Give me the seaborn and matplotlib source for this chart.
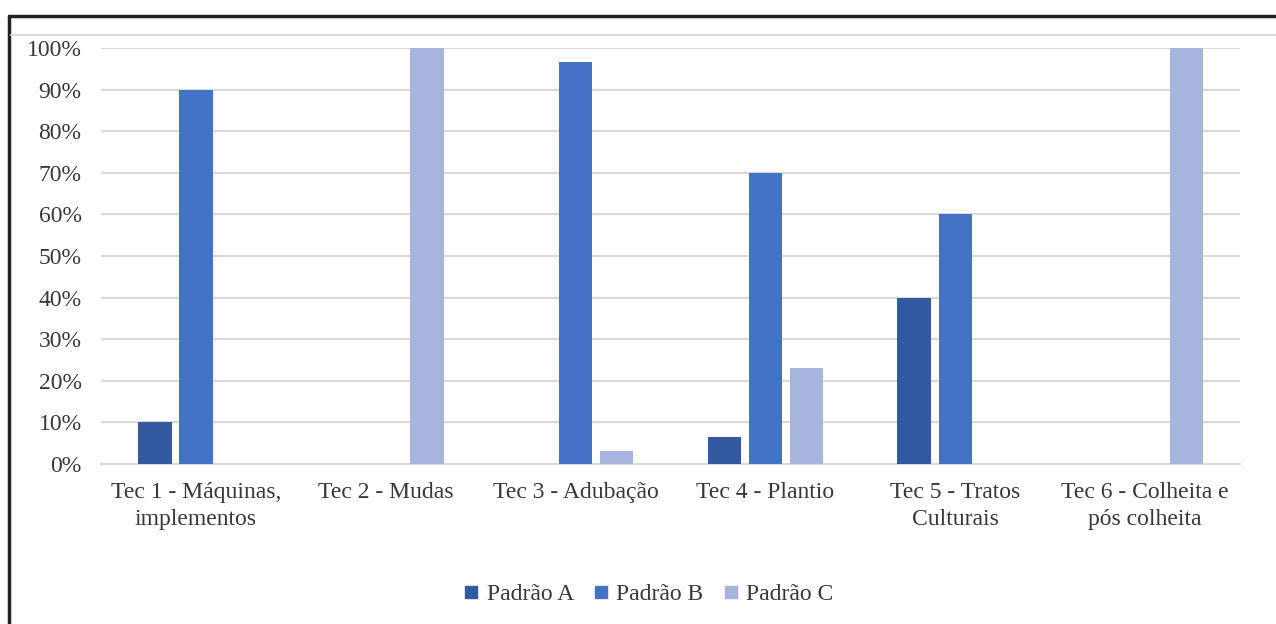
import pandas as pd
import matplotlib.pyplot as plt
import seaborn as sns
from matplotlib.lines import Line2D
from matplotlib.ticker import PercentFormatter

# dados
categorias = ['Tec 1 - Máquinas,\nimplementos', 'Tec 2 - Mudas', 'Tec 3 - Adubação',
              'Tec 4 - Plantio', 'Tec 5 - Tratos\nCulturais', 'Tec 6 - Colheita e\npós colheita']
padrao_a = [10, 0, 0, 6.6, 40, 0]
padrao_b = [90, 0, 96.6, 70, 60, 0]
padrao_c = [0, 100, 3.2, 23.1, 0, 100]
series = ['Padrão A', 'Padrão B', 'Padrão C']
cores = ['#335aa1', '#4472c4', '#a7b5dc']

df = pd.DataFrame({'cat': categorias * 3,
                   'padrao': [s for s in series for _ in categorias],
                   'valor': padrao_a + padrao_b + padrao_c})

sns.set_style('white')
plt.rcParams['font.family'] = ['Liberation Serif', 'DejaVu Serif']

fig = plt.figure(figsize=(12.76, 6.24), dpi=100)
ax = fig.add_axes([0.0792, 0.2564, 0.8926, 0.6666])

sns.barplot(data=df, x='cat', y='valor', hue='padrao', palette=cores, saturation=1,
            width=0.65, gap=0.19, linewidth=0, ax=ax, legend=False, zorder=3)

ax.set_ylim(0, 100)
ax.set_xlim(-0.5, 5.5)
ax.set_yticks(range(0, 101, 10))
ax.yaxis.set_major_formatter(PercentFormatter(decimals=0))
ax.grid(axis='y', color='#d9d9d9', linewidth=1.5, zorder=0)
ax.set_axisbelow(True)
for s in ['top', 'right', 'left']:
    ax.spines[s].set_visible(False)
ax.spines['bottom'].set_color('#d9d9d9')
ax.spines['bottom'].set_linewidth(1.5)
ax.tick_params(axis='both', length=0, labelsize=17, colors='#383838')
ax.tick_params(axis='y', pad=14)
ax.tick_params(axis='x', pad=13)
for t in ax.get_xticklabels():
    t.set_linespacing(1.4)
ax.set_xlabel('')
ax.set_ylabel('')

handles = [Line2D([], [], marker='s', linestyle='', markersize=8.5, color=c) for c in cores]
fig.legend(handles, series, loc='center', bbox_to_anchor=(0.508, 0.047), ncol=3, frameon=False,
           fontsize=17, handlelength=0.7, handletextpad=0.3, columnspacing=0.8,
           labelcolor='#383838')

# moldura da imagem
fig.add_artist(Line2D([0.007, 1], [0.974, 0.974], color='#222222', linewidth=2.5))
fig.add_artist(Line2D([0.007, 0.007], [0, 0.974], color='#222222', linewidth=2.5))
fig.add_artist(Line2D([0.009, 1], [0.944, 0.944], color='#d9d9d9', linewidth=1.5))

plt.savefig('out.png', dpi=100)
